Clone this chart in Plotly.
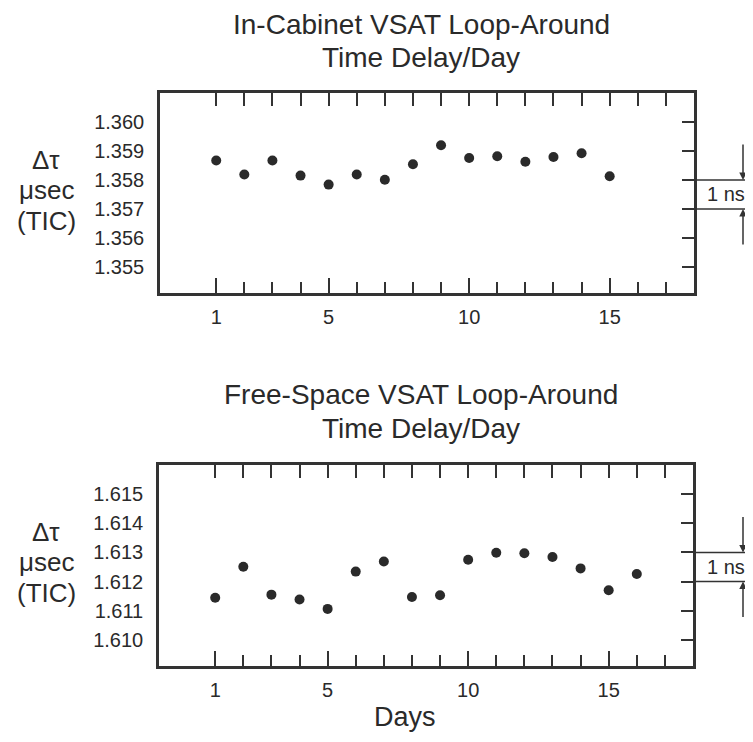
import plotly.graph_objects as go

# ---------------- data ----------------
days_top = list(range(1, 16))
delay_top = [1.35867, 1.35819, 1.35867, 1.35815, 1.35784, 1.35819, 1.35801, 1.35854,
             1.35920, 1.35876, 1.35882, 1.35863, 1.35879, 1.35892, 1.35813]

days_bottom = list(range(1, 17))
delay_bottom = [1.61144, 1.61251, 1.61155, 1.61138, 1.61106, 1.61234, 1.61269, 1.61147,
                1.61153, 1.61275, 1.61299, 1.61297, 1.61284, 1.61245, 1.61170, 1.61226]

x_major = [1, 5, 10, 15]
x_minor = [2, 3, 4, 6, 7, 8, 9, 11, 12, 13, 14, 16, 17]
x_all = list(range(1, 18))
x_labels = ["1", "5", "10", "15"]

yticks_top = [1.355, 1.356, 1.357, 1.358, 1.359, 1.360]
ylabels_top = ["1.355", "1.356", "1.357", "1.358", "1.359", "1.360"]
yticks_bottom = [1.610, 1.611, 1.612, 1.613, 1.614, 1.615]
ylabels_bottom = ["1.610", "1.611", "1.612", "1.613", "1.614", "1.615"]

ns_top = [1.357, 1.358]
ns_bottom = [1.612, 1.613]

title_top = ["In-Cabinet VSAT Loop-Around", "Time Delay/Day"]
title_bottom = ["Free-Space VSAT Loop-Around", "Time Delay/Day"]
ylabel_lines = ["Δτ", "μsec", "(TIC)"]
xlabel = "Days"
ns_label = "1 ns"

x_range = [-1, 18]
yr_top = [1.3541, 1.3610]
yr_bottom = [1.6091, 1.6160]

# ---------------- style ----------------
# the page body has an 8px margin: the figure is drawn 8px in from the corner
OFF = 8
W, H = 753 - OFF, 742 - OFF
INK = "#2a2a2a"
LINE = "#333333"
FONT = "Liberation Sans, Arial, Helvetica, sans-serif"


def px(x):
    return (x - OFF) / W


def py(y):
    return 1 - (y - OFF) / H


dom_x_top = [px(160), px(694)]
dom_y_top = [py(293), py(93)]
dom_x_bot = [px(159), px(693)]
dom_y_bot = [py(666), py(465)]

fig = go.Figure()

marker = dict(size=10, color=INK)
fig.add_trace(go.Scatter(x=days_top, y=delay_top, mode="markers", marker=marker,
                         xaxis="x", yaxis="y", showlegend=False))
fig.add_trace(go.Scatter(x=days_bottom, y=delay_bottom, mode="markers", marker=marker,
                         xaxis="x2", yaxis="y2", showlegend=False))
# helper traces so the overlay axes (top ticks / right ticks) are drawn
fig.add_trace(go.Scatter(x=[], y=[], xaxis="x3", yaxis="y", showlegend=False))
fig.add_trace(go.Scatter(x=[], y=[], xaxis="x", yaxis="y3", showlegend=False))
fig.add_trace(go.Scatter(x=[], y=[], xaxis="x4", yaxis="y2", showlegend=False))
fig.add_trace(go.Scatter(x=[], y=[], xaxis="x2", yaxis="y4", showlegend=False))

tickfont = dict(family=FONT, size=20, color=INK)


def xbottom(domain, anchor):
    return dict(domain=domain, anchor=anchor, range=x_range, tickmode="array",
                tickvals=x_major, ticktext=x_labels, ticks="inside", ticklen=15,
                tickwidth=2, tickcolor=LINE,
                minor=dict(tickmode="array", tickvals=x_minor, ticks="inside",
                           ticklen=11, tickwidth=2, tickcolor=LINE, showgrid=False),
                showline=True, linewidth=2.5, linecolor=LINE, mirror=True,
                showgrid=False, zeroline=False, tickfont=tickfont,
                ticklabelstandoff=4, fixedrange=True)


def xtop(over, anchor):
    return dict(overlaying=over, side="top", anchor=anchor, range=x_range,
                tickmode="array", tickvals=x_all, ticks="inside", ticklen=13,
                tickwidth=2, tickcolor=LINE, showticklabels=False,
                showline=False, showgrid=False, zeroline=False)


def yleft(domain, anchor, rng, vals, labels):
    return dict(domain=domain, anchor=anchor, range=rng, tickmode="array",
                tickvals=vals, ticktext=labels, ticks="", showline=True,
                linewidth=2.5, linecolor=LINE, mirror=True, showgrid=False,
                zeroline=False, tickfont=tickfont, ticklabelstandoff=9)


def yright(over, anchor, rng, vals):
    return dict(overlaying=over, side="right", anchor=anchor, range=rng,
                tickmode="array", tickvals=vals, ticks="inside", ticklen=12,
                tickwidth=2, tickcolor=LINE, showticklabels=False,
                showline=False, showgrid=False, zeroline=False)


fig.update_layout(
    width=W, height=H, margin=dict(l=0, r=0, t=0, b=0),
    paper_bgcolor="white", plot_bgcolor="white", showlegend=False,
    font=dict(family=FONT, color=INK),
    xaxis=xbottom(dom_x_top, "y"),
    yaxis=yleft(dom_y_top, "x", yr_top, yticks_top, ylabels_top),
    xaxis3=xtop("x", "y"),
    yaxis3=yright("y", "x", yr_top, yticks_top),
    xaxis2=xbottom(dom_x_bot, "y2"),
    yaxis2=yleft(dom_y_bot, "x2", yr_bottom, yticks_bottom, ylabels_bottom),
    xaxis4=xtop("x2", "y2"),
    yaxis4=yright("y2", "x2", yr_bottom, yticks_bottom),
)

# 1 ns reference lines, arrows, labels
for dom, yref, vals in [(dom_x_top, "y", ns_top), (dom_x_bot, "y2", ns_bottom)]:
    for v in vals:
        fig.add_shape(type="line", xref="paper", yref=yref, x0=dom[1], x1=1.0,
                      y0=v, y1=v, line=dict(color=LINE, width=1.5))
    fig.add_annotation(xref="paper", yref=yref, x=px(743), y=vals[1], text="",
                       showarrow=True, ax=0, ay=-37, arrowhead=2, arrowsize=1,
                       arrowwidth=1.5, arrowcolor=LINE)
    fig.add_annotation(xref="paper", yref=yref, x=px(743), y=vals[0], text="",
                       showarrow=True, ax=0, ay=37, arrowhead=2, arrowsize=1,
                       arrowwidth=1.5, arrowcolor=LINE)
    fig.add_annotation(xref="paper", yref=yref, x=px(726), y=(vals[0] + vals[1]) / 2,
                       text=ns_label, showarrow=False, xanchor="center",
                       yanchor="middle", font=dict(family=FONT, size=20, color=INK))

# titles
for lines, ys in [(title_top, [25, 57]), (title_bottom, [395, 428])]:
    for txt, yp in zip(lines, ys):
        fig.add_annotation(xref="paper", yref="paper", x=px(421), y=py(yp),
                           text=txt, showarrow=False, xanchor="center",
                           yanchor="middle", font=dict(family=FONT, size=28, color=INK))

# y-axis labels
for ys in [[160, 190, 221], [532, 562, 593]]:
    for txt, yp in zip(ylabel_lines, ys):
        fig.add_annotation(xref="paper", yref="paper", x=px(46), y=py(yp),
                           text=txt, showarrow=False, xanchor="center",
                           yanchor="middle", font=dict(family=FONT, size=26, color=INK))

# x-axis title
fig.add_annotation(xref="paper", yref="paper", x=px(405), y=py(717),
                   text=xlabel, showarrow=False, xanchor="center", yanchor="middle",
                   font=dict(family=FONT, size=27, color=INK))

fig.write_html("out.html")
